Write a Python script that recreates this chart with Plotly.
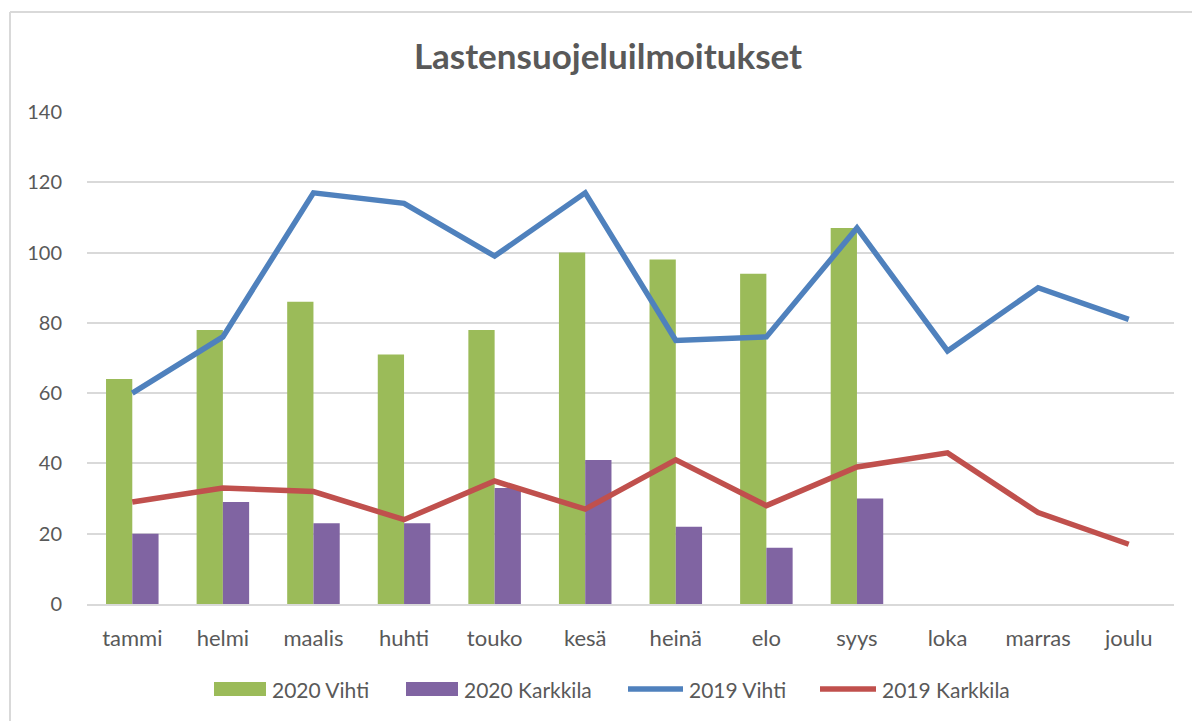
import plotly.graph_objects as go

months = ["tammi", "helmi", "maalis", "huhti", "touko", "kesä", "heinä", "elo", "syys", "loka", "marras", "joulu"]
vihti_2020 = [64, 78, 86, 71, 78, 100, 98, 94, 107]
karkkila_2020 = [20, 29, 23, 23, 33, 41, 22, 16, 30]
vihti_2019 = [60, 76, 117, 114, 99, 117, 75, 76, 107, 72, 90, 81]
karkkila_2019 = [29, 33, 32, 24, 35, 27, 41, 28, 39, 43, 26, 17]
y_ticks = [0, 20, 40, 60, 80, 100, 120, 140]
series_names = ["2020 Vihti", "2020 Karkkila", "2019 Vihti", "2019 Karkkila"]

GREEN = "#9BBB59"
PURPLE = "#8064A2"
BLUE = "#4F81BD"
RED = "#C0504D"
TXT = "#595959"
GRID = "#D9D9D9"
FONT = "Lato"

fig = go.Figure()
fig.add_trace(go.Bar(x=months[:len(vihti_2020)], y=vihti_2020, name=series_names[0],
                     marker=dict(color=GREEN, line=dict(width=0))))
fig.add_trace(go.Bar(x=months[:len(karkkila_2020)], y=karkkila_2020, name=series_names[1],
                     marker=dict(color=PURPLE, line=dict(width=0))))
fig.add_trace(go.Scatter(x=months, y=vihti_2019, name=series_names[2], mode="lines",
                         line=dict(color=BLUE, width=5.5, shape="linear")))
fig.add_trace(go.Scatter(x=months, y=karkkila_2019, name=series_names[3], mode="lines",
                         line=dict(color=RED, width=5.5, shape="linear")))

L, R, T, B = 87, 18, 112, 117
W, H = 1192, 721
pw = W - L - R
ph = H - T - B


def px_x(p):
    return (p - L) / pw


def px_y(p):
    return (H - B - p) / ph


# custom Excel-style legend (wide swatches)
LEG_Y = 689
legend_items = [
    ("rect", GREEN, 214, 266, 270),
    ("rect", PURPLE, 406, 458, 462),
    ("line", BLUE, 628, 683, 687),
    ("line", RED, 820, 876, 880),
]
shapes = [
    dict(type="line", xref="paper", yref="paper", x0=px_x(10), x1=px_x(1192), y0=px_y(12), y1=px_y(12),
         line=dict(color=GRID, width=2)),
    dict(type="line", xref="paper", yref="paper", x0=px_x(10), x1=px_x(10), y0=px_y(12), y1=px_y(721),
         line=dict(color=GRID, width=2)),
]
annotations = []
for name, (kind, col, x0, x1, tx) in zip(series_names, legend_items):
    if kind == "rect":
        shapes.append(dict(type="rect", xref="paper", yref="paper", x0=px_x(x0), x1=px_x(x1),
                           y0=px_y(LEG_Y + 7), y1=px_y(LEG_Y - 7), fillcolor=col, line=dict(width=0)))
    else:
        shapes.append(dict(type="line", xref="paper", yref="paper", x0=px_x(x0), x1=px_x(x1),
                           y0=px_y(LEG_Y), y1=px_y(LEG_Y), line=dict(color=col, width=5.5)))
    annotations.append(dict(text=name, xref="paper", yref="paper", x=px_x(tx), y=px_y(LEG_Y),
                            xanchor="left", yanchor="middle", showarrow=False,
                            font=dict(family=FONT, size=21, color=TXT)))

fig.update_layout(
    width=W, height=H,
    margin=dict(l=L, r=R, t=T, b=B, pad=0, autoexpand=False),
    paper_bgcolor="white", plot_bgcolor="white",
    barmode="group", bargap=0.42, bargroupgap=0,
    showlegend=False,
    font=dict(family=FONT, size=19, color=TXT),
    title=dict(text="<b>Lastensuojeluilmoitukset</b>", x=px_x(608), xref="paper", xanchor="center",
               y=1 - 57 / H, yanchor="middle", font=dict(family=FONT, size=35, color=TXT)),
    xaxis=dict(categoryorder="array", categoryarray=months, range=[-0.5, len(months) - 0.5],
               tickfont=dict(size=22, color=TXT), automargin=False,
               showgrid=False, showline=True, linecolor=GRID, linewidth=2, ticks="",
               ticklabelstandoff=14),
    yaxis=dict(range=[0, 140], tickvals=y_ticks, showgrid=True, gridcolor=GRID, gridwidth=2,
               zeroline=False, showline=False, ticks="", tickfont=dict(size=20, color=TXT),
               ticklabelstandoff=24, automargin=False),
    shapes=shapes,
    annotations=annotations,
)

fig.write_html("out.html", config={"displayModeBar": False},
               post_script="document.body.style.margin='0';document.body.style.overflow='hidden';")
